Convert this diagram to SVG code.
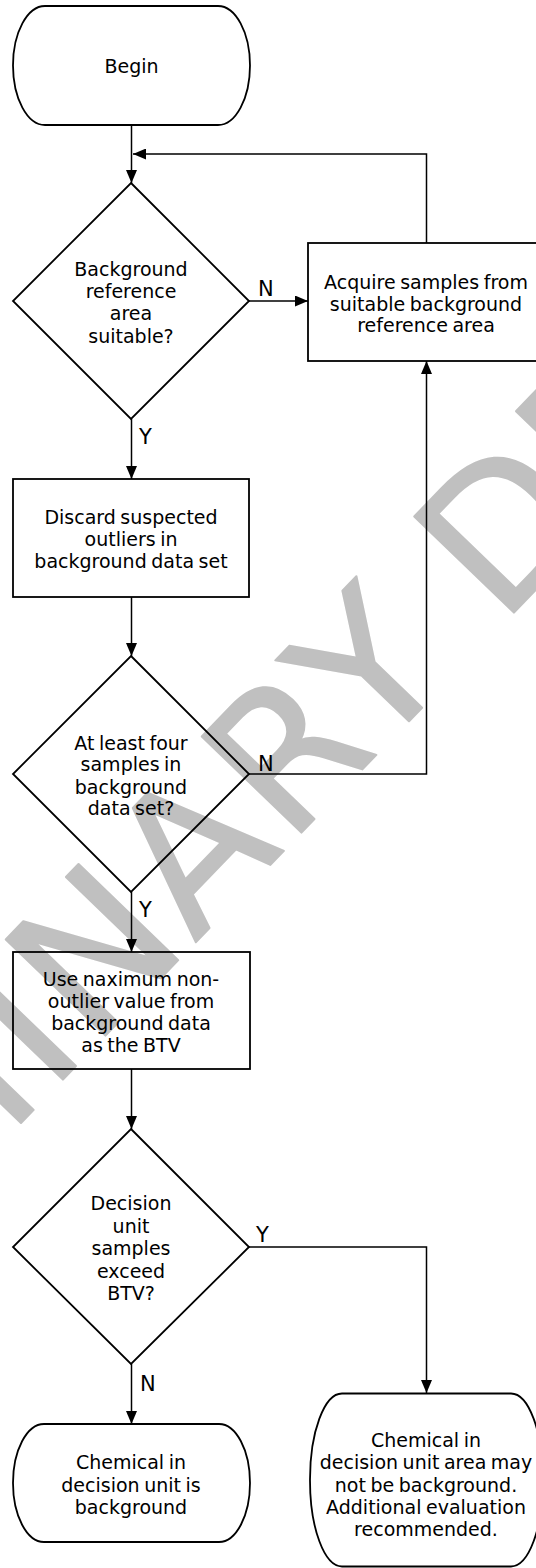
<svg xmlns="http://www.w3.org/2000/svg" width="536" height="1568" viewBox="0 0 536 1568">
  <defs>
    <style>
      .shape { fill: none; stroke: #000; stroke-width: 1.8; }
      .conn { fill: none; stroke: #000; stroke-width: 1.5; }
      .txt { font-family: "DejaVu Sans", Verdana, sans-serif; font-size: 19px; fill: #000; text-anchor: middle; word-spacing: -1.5px; }
      .lbl { font-family: "DejaVu Sans", Verdana, sans-serif; font-size: 21px; fill: #000; }
      .wm { font-family: "DejaVu Sans", Verdana, sans-serif; font-size: 190px; fill: #c0c0c0; stroke: #c0c0c0; stroke-width: 2; stroke-linejoin: round; }
    </style>
    <marker id="arrow" viewBox="0 0 13 11" refX="13" refY="5.5" markerWidth="13" markerHeight="11" markerUnits="userSpaceOnUse" orient="auto">
      <path d="M0,0 L13,5.5 L0,11 z" fill="#000"/>
    </marker>
  </defs>

  <rect width="536" height="1568" fill="#fff"/>

  <!-- draft watermark -->
  <g id="watermark">
    <text class="wm" transform="translate(501,626) rotate(-46)"><tspan x="-60" text-anchor="end" letter-spacing="5">PRELIMINARY</tspan><tspan x="0">DRAFT</tspan></text>
  </g>

  <!-- connectors -->
  <g id="connectors">
    <path class="conn" d="M131.5,125 V183" marker-end="url(#arrow)"/>
    <path class="conn" d="M426.5,243 V154 H133" marker-end="url(#arrow)"/>
    <path class="conn" d="M249,301 H308" marker-end="url(#arrow)"/>
    <path class="conn" d="M131.5,419 V479" marker-end="url(#arrow)"/>
    <path class="conn" d="M131.5,597 V656" marker-end="url(#arrow)"/>
    <path class="conn" d="M249,774 H426.5 V361" marker-end="url(#arrow)"/>
    <path class="conn" d="M131.5,892 V952" marker-end="url(#arrow)"/>
    <path class="conn" d="M131.5,1069 V1129" marker-end="url(#arrow)"/>
    <path class="conn" d="M249,1247 H426.5 V1393" marker-end="url(#arrow)"/>
    <path class="conn" d="M131.5,1364 V1424" marker-end="url(#arrow)"/>
    <text class="lbl" x="258" y="295.5">N</text>
    <text class="lbl" x="139" y="443.5">Y</text>
    <text class="lbl" x="258" y="770.5">N</text>
    <text class="lbl" x="139" y="916.5">Y</text>
    <text class="lbl" x="256" y="1241.5">Y</text>
    <text class="lbl" x="140" y="1390.5">N</text>
  </g>

  <!-- start terminator -->
  <g id="begin">
    <rect class="shape" x="13" y="6" width="237" height="119" rx="32" ry="59.5"/>
    <text class="txt" x="131.5" y="72.5">Begin</text>
  </g>

  <!-- decision: reference area -->
  <g id="refAreaSuitable">
    <path class="shape" d="M131,183 L249,301 L131,419 L13,301 Z"/>
    <text class="txt" x="131" y="276">Background</text>
    <text class="txt" x="131" y="298">reference</text>
    <text class="txt" x="131" y="320">area</text>
    <text class="txt" x="131" y="342.5">suitable?</text>
  </g>

  <!-- process: acquire samples -->
  <g id="acquireSamples">
    <rect class="shape" x="308" y="243" width="236" height="118"/>
    <text class="txt" x="426" y="289">Acquire samples from</text>
    <text class="txt" x="426" y="310.5">suitable background</text>
    <text class="txt" x="426" y="332">reference area</text>
  </g>

  <!-- process: discard outliers -->
  <g id="discardOutliers">
    <rect class="shape" x="13" y="479" width="236" height="118"/>
    <text class="txt" x="131" y="523.5">Discard suspected</text>
    <text class="txt" x="131" y="545.5">outliers in</text>
    <text class="txt" x="131" y="568">background data set</text>
  </g>

  <!-- decision: sample count -->
  <g id="fourSamples">
    <path class="shape" d="M131,656 L249,774 L131,892 L13,774 Z"/>
    <text class="txt" x="131" y="749.5">At least four</text>
    <text class="txt" x="131" y="771">samples in</text>
    <text class="txt" x="131" y="793.5">background</text>
    <text class="txt" x="131" y="815">data set?</text>
  </g>

  <!-- process: maximum value as BTV -->
  <g id="useMaximum">
    <rect class="shape" x="13" y="952" width="237" height="117"/>
    <text class="txt" x="131" y="986">Use naximum non-</text>
    <text class="txt" x="131" y="1008">outlier value from</text>
    <text class="txt" x="131" y="1030">background data</text>
    <text class="txt" x="131" y="1052">as the BTV</text>
  </g>

  <!-- decision: exceed BTV -->
  <g id="exceedBTV">
    <path class="shape" d="M131,1129 L249,1247 L131,1364 L13,1247 Z"/>
    <text class="txt" x="131" y="1210">Decision</text>
    <text class="txt" x="131" y="1232.5">unit</text>
    <text class="txt" x="131" y="1255">samples</text>
    <text class="txt" x="131" y="1277.5">exceed</text>
    <text class="txt" x="131" y="1300">BTV?</text>
  </g>

  <!-- end terminator: background -->
  <g id="isBackground">
    <rect class="shape" x="13" y="1424" width="237" height="118" rx="31" ry="59"/>
    <text class="txt" x="131" y="1469">Chemical in</text>
    <text class="txt" x="131" y="1491.5">decision unit is</text>
    <text class="txt" x="131" y="1514">background</text>
  </g>

  <!-- end terminator: further evaluation -->
  <g id="notBackground">
    <rect class="shape" x="310" y="1393.5" width="233" height="173" rx="32" ry="86"/>
    <text class="txt" x="426" y="1446.5">Chemical in</text>
    <text class="txt" x="426" y="1469">decision unit area may</text>
    <text class="txt" x="426" y="1491.5">not be background.</text>
    <text class="txt" x="426" y="1514">Additional evaluation</text>
    <text class="txt" x="426" y="1536">recommended.</text>
  </g>
</svg>
